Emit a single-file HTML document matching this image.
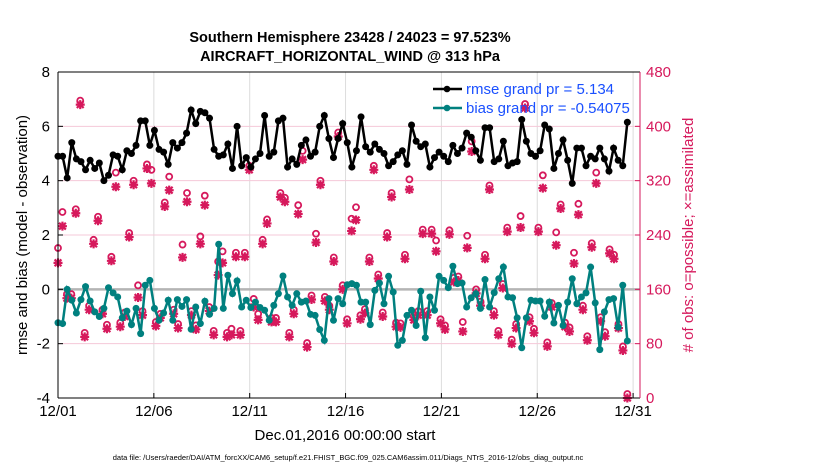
<!DOCTYPE html>
<html><head><meta charset="utf-8"><style>
body{margin:0;background:#fff;width:830px;height:470px;overflow:hidden;font-family:"Liberation Sans",Arial,sans-serif}
svg text{font-family:"Liberation Sans",Arial,sans-serif}
</style></head><body>
<svg id="chart" width="830" height="470" viewBox="0 0 830 470" xmlns="http://www.w3.org/2000/svg">
<g id="grid"></g>
<g id="marks"></g>
<g id="axes"></g>
<text x="350" y="42" text-anchor="middle" font-size="14.5" font-weight="bold">Southern Hemisphere 23428 / 24023 = 97.523%</text>
<text x="350" y="61" text-anchor="middle" font-size="14.5" font-weight="bold">AIRCRAFT_HORIZONTAL_WIND @ 313 hPa</text>
<text transform="translate(27,235) rotate(-90)" text-anchor="middle" font-size="15">rmse and bias (model - observation)</text>
<text transform="translate(693,235) rotate(-90)" text-anchor="middle" font-size="15" fill="#d6195c"># of obs: o=possible; ×=assimilated</text>
<text x="345" y="440" text-anchor="middle" font-size="15">Dec.01,2016 00:00:00 start</text>
<text x="348" y="460" text-anchor="middle" font-size="7.5">data file: /Users/raeder/DAI/ATM_forcXX/CAM6_setup/f.e21.FHIST_BGC.f09_025.CAM6assim.011/Diags_NTrS_2016-12/obs_diag_output.nc</text>
<g>
<line x1="433" y1="89" x2="462" y2="89" stroke="#000" stroke-width="2.5"/><circle cx="447" cy="89" r="3.3" fill="#000"/>
<text x="466" y="94" font-size="15" fill="#1a50ff">rmse grand pr = 5.134</text>
<line x1="433" y1="108" x2="462" y2="108" stroke="#00807f" stroke-width="2.5"/><circle cx="447" cy="108" r="3.3" fill="#00807f"/>
<text x="466" y="113" font-size="15" fill="#1a50ff">bias grand pr = -0.54075</text>
</g>
</svg>
<script>
const rmse=[4.9,4.9,4.1,5.4,4.8,4.7,4.4,4.75,4.45,4.65,4.0,4.2,4.95,4.9,4.4,5.1,5.0,5.3,6.2,6.2,5.3,5.85,5.15,5.05,4.6,5.4,5.2,5.4,5.75,6.6,6.1,6.55,6.5,6.3,5.15,4.9,4.95,5.35,4.45,6.0,4.55,4.85,
4.5,4.8,5.0,6.4,4.9,5.05,6.2,6.3,4.5,4.8,4.6,5.3,5.5,4.9,5.05,6.0,6.4,5.55,4.85,5.55,6.1,5.4,4.5,5.1,6.35,5.25,5.05,5.35,5.15,5.0,4.55,4.7,4.95,5.1,4.6,6.05,5.45,5.25,5.35,4.5,4.85,
5.05,4.9,4.7,5.3,5.0,5.2,5.75,5.6,5.1,4.75,5.95,5.95,4.7,4.8,5.45,4.55,4.65,4.7,6.25,5.45,5.0,4.9,5.1,6.05,5.9,4.45,5.0,5.5,4.75,3.9,5.2,5.2,4.55,4.9,4.8,5.2,4.8,4.35,5.2,4.75,4.55,6.15];
const bias=[-1.23,-1.26,0,-0.4,-0.87,-0.38,0.1,-0.43,-0.83,-1.0,-0.7,0.06,-0.13,-0.28,-1.05,-0.8,-1.3,-0.7,-1.63,0.15,0.33,-0.7,-1.14,-0.87,-0.4,-1.14,-0.38,-0.63,-0.38,-1.47,-0.65,-1.26,-0.44,-0.92,-0.7,1.66,-0.7,0.52,-0.16,0.31,-0.65,-0.4,
-0.67,-0.47,-0.67,-0.77,-1.14,-0.59,-0.16,0.49,-0.28,-0.59,-0.16,-0.47,-0.43,-0.92,-0.96,-1.48,-1.88,-0.34,-1.14,-0.34,-0.53,0.17,0.21,0.15,-0.47,-0.47,-1.3,-0.04,0.23,-0.53,0.48,-0.1,-2.06,-1.88,-0.96,-0.77,-1.33,-0.07,-1.78,-0.28,-0.77,
0.48,0.33,0.06,0.85,0.21,0.23,-0.65,-0.31,-0.16,-0.7,0.36,-0.65,-0.12,0.39,0.82,-0.28,-0.31,-1.05,-2.15,-1.05,-0.4,-0.43,-0.43,-0.99,-0.47,-1.24,-0.59,-1.33,-0.47,0.39,-0.53,-0.28,-0.13,0.82,-0.5,-2.22,-0.83,-0.38,-0.34,-1.39,0.15,-1.9];
const assim=[199,253,147,147,272,432,90,130,227,261,124,102,202,311,105,120,237,314,148,122,338,316,106,118,282,306,124,103,207,289,122,101,227,284,128,93,181,199,90,93,208,
93,208,336,134,115,227,257,112,112,296,289,90,124,271,351,75,145,229,314,143,130,201,385,160,110,246,262,116,125,201,336,176,120,237,296,105,104,205,307,115,122,242,
122,242,216,110,101,241,171,173,98,221,363,154,136,205,307,122,93,162,245,80,103,251,427,113,96,245,309,76,134,225,279,105,98,198,270,130,85,222,316,113,91,213,205,103,70,0];
const possible=[215,268,147,147,272,432,90,130,227,261,124,102,202,326,105,120,237,314,160,122,338,330,106,118,282,320,124,103,220,296,122,101,232,292,128,93,195,210,90,96,208,
93,208,336,140,118,227,257,112,112,296,289,90,124,278,358,75,145,236,314,143,130,201,385,160,110,258,275,116,125,201,336,176,120,237,296,105,104,205,316,115,122,242,
122,242,226,110,101,241,171,173,106,233,372,154,136,205,307,122,93,162,245,80,103,262,427,113,96,245,322,76,134,238,279,105,98,208,280,130,85,222,326,113,91,213,205,103,70,0];
const xTicks=["12/01","12/06","12/11","12/16","12/21","12/26","12/31"];
const leftTicks=[-4,-2,0,2,4,6,8];
const rightTicks=[0,80,160,240,320,400,480];

const X0=58,X1=640,Y0=72,Y1=398,pxDay=19.17,spanDays=29.7;
const xs=d=>X0+d*pxDay;
const yL=v=>Y1-(v+4)/12*(Y1-Y0);
const yR=n=>Y1-n/480*(Y1-Y0);
const NS="http://www.w3.org/2000/svg";
function mk(tag,attrs,parent){const e=document.createElementNS(NS,tag);for(const k in attrs)e.setAttribute(k,attrs[k]);parent.appendChild(e);return e;}
const grid=document.getElementById('grid'),marks=document.getElementById('marks'),axes=document.getElementById('axes');
mk('rect',{x:X0,y:Y0,width:X1-X0,height:Y1-Y0,fill:'#fff'},grid);
xTicks.forEach((t,i)=>{const x=xs(i*5);
 const g=mk('line',{x1:x,y1:Y0,x2:x,y2:Y1,stroke:'#dcdcdc','stroke-width':1},grid);
 
 
 mk('line',{x1:x,y1:Y1,x2:x,y2:Y1-5,stroke:'#000'},axes);
 const tx=mk('text',{x:x,y:Y1+18,'text-anchor':'middle','font-size':15},axes);tx.textContent=t;
 
 
});
rightTicks.forEach(n=>{const y=yR(n);
 if(n>0&&n<480){const g=mk('line',{x1:X0,y1:y,x2:X1,y2:y,stroke:'#f5c8d8','stroke-width':1},grid);
 
 }
 mk('line',{x1:X1,y1:y,x2:X1-5,y2:y,stroke:'#d6195c'},axes);
 const tx=mk('text',{x:X1+6,y:y+5,'font-size':15,fill:'#d6195c'},axes);tx.textContent=n;
 
 
});
leftTicks.forEach(v=>{const y=yL(v);
 mk('line',{x1:X0,y1:y,x2:X0+5,y2:y,stroke:'#000'},axes);
 const tx=mk('text',{x:X0-8,y:y+5,'text-anchor':'end','font-size':15},axes);tx.textContent=v;
 
 
});
mk('line',{x1:X0,y1:yL(0),x2:X1,y2:yL(0),stroke:'#b4b4b4','stroke-width':2.5},grid);
const dO=spanDays/(assim.length-1);
possible.forEach((n,i)=>{const c=mk('circle',{cx:xs(i*dO),cy:yR(n)-4,r:3,fill:'none',stroke:'#d6195c','stroke-width':1.8},marks);
 
 });
assim.forEach((n,i)=>{const x=xs(i*dO),y=yR(n),r=4.5,q=3.4;
 const p=mk('path',{d:`M${x-r},${y}H${x+r}M${x},${y-r}V${y+r}M${x-q},${y-q}L${x+q},${y+q}M${x-q},${y+q}L${x+q},${y-q}`,stroke:'#d6195c','stroke-width':2.2},marks);
 
 });
function series(arr,color,name){const d=spanDays/(arr.length-1);
 const pl=mk('polyline',{points:arr.map((v,i)=>xs(i*d)+','+yL(v)).join(' '),fill:'none',stroke:color,'stroke-width':2.5},marks);
 
 
 arr.forEach((v,i)=>{const c=mk('circle',{cx:xs(i*d),cy:yL(v),r:3.5,fill:color},marks);
  
  });}
series(rmse,'#000','rmse');
series(bias,'#00807f','bias');
mk('line',{x1:X0,y1:Y0,x2:X1,y2:Y0,stroke:'#000'},axes);
mk('line',{x1:X0,y1:Y0,x2:X0,y2:Y1,stroke:'#000'},axes);
mk('line',{x1:X0,y1:Y1,x2:X1,y2:Y1,stroke:'#000'},axes);
mk('line',{x1:X1,y1:Y0,x2:X1,y2:Y1,stroke:'#d6195c'},axes);
</script>
</body></html>
